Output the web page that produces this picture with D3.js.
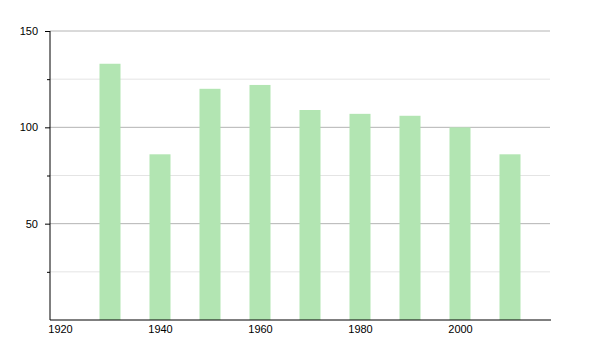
<!DOCTYPE html>
<html lang="en">
<head>
<meta charset="UTF-8">
<title>Chart</title>
<style>
  body { margin: 0; background: #fff; }
  text { font-family: "Liberation Sans", Arial, sans-serif; font-size: 11px; fill: #000; }
</style>
</head>
<body>
<svg width="600" height="350"></svg>
<script src="https://d3js.org/d3.v7.min.js"></script>
<script>
const years = [1930, 1940, 1950, 1960, 1970, 1980, 1990, 2000, 2010];
const values = [133, 86, 120, 122, 109, 107, 106, 100, 86];
const yearTicks = [1920, 1940, 1960, 1980, 2000];
const majorTicks = [50, 100, 150];
const minorTicks = [25, 75, 125];

const margin = {top: 31, right: 50, bottom: 30, left: 50};
const svg = d3.select('svg');
const width = 600 - margin.left - margin.right;
const height = 350 - margin.top - margin.bottom;

const x = d3.scaleLinear().domain([1918, 2018]).range([0, width]);
const y = d3.scaleLinear().domain([0, 150]).range([height, 0]);

const defs = svg.append('defs');
defs.append('filter').attr('id', 'soft')
  .append('feGaussianBlur').attr('stdDeviation', 0.6);

const g = svg.append('g').attr('transform', `translate(${margin.left},${margin.top})`);

// grid lines
g.selectAll('.minor').data(minorTicks).enter().append('line')
  .attr('x1', 0).attr('x2', width)
  .attr('y1', d => y(d)).attr('y2', d => y(d))
  .attr('stroke', '#e4e4e4');
g.selectAll('.major').data(majorTicks).enter().append('line')
  .attr('x1', 0).attr('x2', width)
  .attr('y1', d => y(d)).attr('y2', d => y(d))
  .attr('stroke', '#b4b4b4');

// bars
const barW = 21;
g.selectAll('rect').data(values).enter().append('rect')
  .attr('x', (d, i) => x(years[i]) - barW / 2)
  .attr('y', d => y(d))
  .attr('width', barW)
  .attr('height', d => height - y(d))
  .attr('fill', '#b2e5b2')
  .attr('filter', 'url(#soft)');

// y axis
const yAxis = g.append('g')
  .call(d3.axisLeft(y).tickValues(majorTicks).tickSize(5).tickPadding(7));
yAxis.select('.domain').attr('stroke', '#000').attr('d', `M0,${height}V0`);
yAxis.selectAll('text').style('font-size', '11px');
g.append('g')
  .call(d3.axisLeft(y).tickValues(minorTicks).tickSize(3).tickFormat(''))
  .select('.domain').remove();

// x axis
const xAxis = g.append('g')
  .attr('transform', `translate(0,${height})`)
  .call(d3.axisBottom(x).tickValues(yearTicks).tickSize(0).tickPadding(5).tickFormat(d3.format('d')));
xAxis.select('.domain').attr('stroke', '#000').attr('d', `M0,0H${width + 1}`);
xAxis.selectAll('text').style('font-size', '11px');
</script>
</body>
</html>
